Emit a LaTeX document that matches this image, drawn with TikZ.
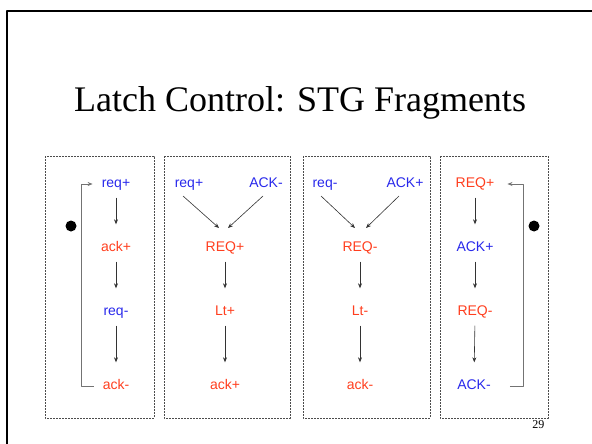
\documentclass[tikz,border=0pt]{standalone}
\usepackage{fontspec}
\setmainfont{Liberation Serif}
\setsansfont{Liberation Sans}
\usetikzlibrary{calc,arrows.meta}
\definecolor{sigblue}{RGB}{40,40,235}
\definecolor{sigred}{RGB}{255,62,30}
\tikzset{
  sig/.style={font=\sffamily\fontsize{14}{16}\selectfont,inner sep=0pt,text height=10pt,text depth=3pt},
  inp/.style={sig,text=sigblue},
  outp/.style={sig,text=sigred},
  arc/.style={->,draw=black!80,line width=0.6pt},
  backarc/.style={->,draw=black!55,line width=0.8pt},
  fragbox/.style={draw=black!70,line width=0.6pt,dash pattern=on 2pt off 1pt}
}
\begin{document}
\begin{tikzpicture}[x=1pt,y=-1pt,>={Stealth[length=5pt,width=4pt]},line join=round]
	\useasboundingbox (0,0) rectangle (592,444);
	\draw[line width=1.5pt] (7,444)--(7,11)--(592,11);
	\node[font=\fontsize{36}{40}\selectfont,anchor=base] (title) at (300,111) {Latch Control: STG Fragments};
	\foreach \l/\r in {45/154,164/290,303/430,440/548}
	\draw[fragbox] (\l,156) rectangle (\r,418);
	\node[font=\fontsize{12}{14}\selectfont,anchor=base east] (pg) at (548,428) {29};
	% req/ack cycle with token
	\node[inp] (r1) at (116,184) {req+};
	\node[outp] (a1) at (116,248) {ack+};
	\node[inp] (r2) at (116,312) {req-};
	\node[outp] (a2) at (116,386) {ack-};
	\draw[backarc,shorten <=9pt,shorten >=9pt] (a2.west) -- ++(-21,0) |- (r1.west);
	\fill (71,226) circle (5.5);
	% rising REQ
	\node[inp] (r3) at (189,184) {req+};
	\node[inp] (A1) at (266,184) {ACK-};
	\node[outp] (R1) at (225,248) {REQ+};
	\node[outp] (L1) at (225,312) {Lt+};
	\node[outp] (a3) at (225,386) {ack+};
	\draw[arc] ($(r3)+(-6,12)$) -- ($(R1)+(-6,-20)$);
	\draw[arc] ($(A1)+(-3,12)$) -- ($(R1)+(3,-20)$);
	% falling REQ
	\node[inp] (r4) at (325,184) {req-};
	\node[inp] (A2) at (405,184) {ACK+};
	\node[outp] (R2) at (360,248) {REQ-};
	\node[outp] (L2) at (360,312) {Lt-};
	\node[outp] (a4) at (360,386) {ack-};
	\draw[arc] ($(r4)+(-4,12)$) -- ($(R2)+(-5,-20)$);
	\draw[arc] ($(A2)+(-6,12)$) -- ($(R2)+(6,-20)$);
	% REQ/ACK cycle with token
	\node[outp] (R3) at (475,184) {REQ+};
	\node[inp] (A3) at (475,248) {ACK+};
	\node[outp] (R4) at (475,312) {REQ-};
	\node[inp] (A4) at (474,386) {ACK-};
	\draw[backarc,shorten <=19pt,shorten >=13pt] (A4.east) -- ++(32,0) |- (R3.east);
	\fill (534,226) circle (5.5);
	\foreach \u/\v in {r1/a1,a1/r2,r2/a2,R1/L1,L1/a3,R2/L2,L2/a4,R3/A3,A3/R4,R4/A4}
	\draw[arc,shorten <=7pt,shorten >=17pt] (\u.south) -- (\v.north);
\end{tikzpicture}
\end{document}
